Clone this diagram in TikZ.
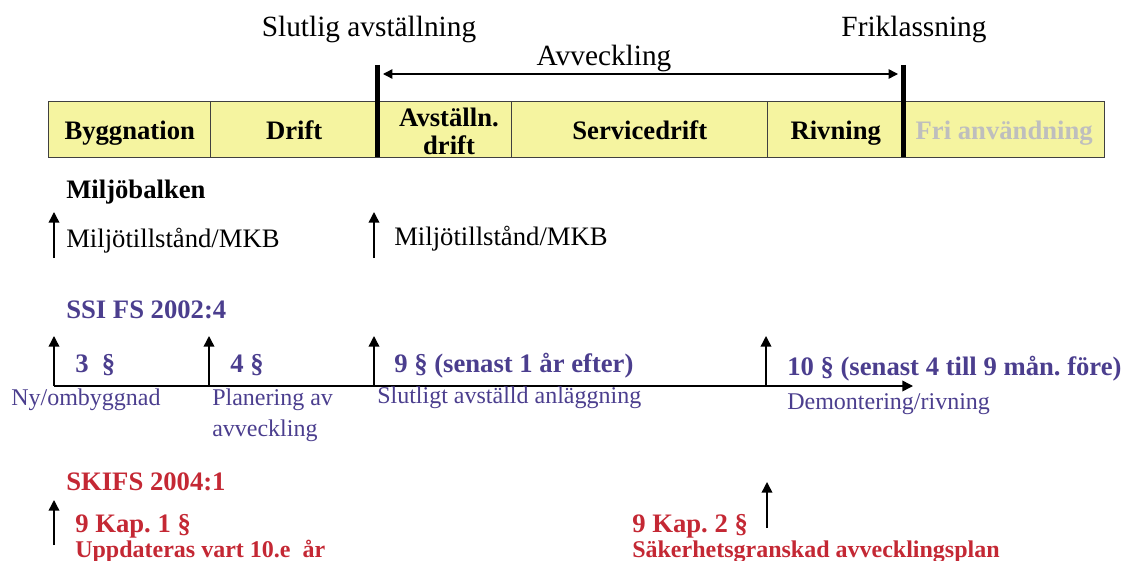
\documentclass[tikz,border=0pt]{standalone}
\usepackage{fontspec}
\setmainfont{Liberation Serif}
\usetikzlibrary{arrows.meta}
\definecolor{barfill}{RGB}{245,244,160}
\definecolor{ssiblue}{RGB}{75,62,142}
\definecolor{skired}{RGB}{196,40,52}
\definecolor{frigray}{RGB}{190,190,190}
\frenchspacing

\begin{document}
\begin{tikzpicture}[x=0.75pt,y=-0.75pt]
\tikzstyle{phase}=[draw=black!75, fill=barfill, line width=1.1pt, anchor=north west, minimum height=42pt, inner sep=0pt, text height=15pt, text depth=0pt, font=\fontsize{20}{21}\selectfont\bfseries]
\tikzstyle{milestone}=[line width=3.75pt]
\tikzstyle{uparrow}=[-{Triangle[length=8pt,width=8pt]}, line width=1.1pt]
\tikzstyle{head}=[anchor=base, inner sep=0pt, font=\fontsize{22}{24}\selectfont]
\tikzstyle{law}=[anchor=base west, inner sep=0pt, font=\fontsize{20}{22}\selectfont\bfseries]
\tikzstyle{plain}=[anchor=base west, inner sep=0pt, font=\fontsize{20}{22}\selectfont]
\tikzstyle{small}=[anchor=base west, inner sep=0pt, align=left, font=\fontsize{18}{23.25}\selectfont]
\tikzstyle{note}=[anchor=base west, inner sep=0pt, font=\fontsize{18}{19}\selectfont\bfseries]

\useasboundingbox (0,0) rectangle (1123,560);

% phases
\draw (48,101) node[phase, minimum width=121.5pt] (bygg) {Byggnation};
\draw (210,101) node[phase, minimum width=125.25pt] (drift) {Drift};
\draw (377,101) node[phase, minimum width=100.5pt] (avst) {};
\draw (511,101) node[phase, minimum width=192pt] (service) {Servicedrift};
\draw (767,101) node[phase, minimum width=102pt] (rivning) {Rivning};
\draw (903,101) node[phase, minimum width=150.75pt, text=frigray] (fri) {Fri användning};
\draw (449,154) node[anchor=base, align=center, inner sep=0pt, font=\fontsize{20}{21}\selectfont\bfseries] (avsttext) {Avställn.\\drift};

% milestones
\coordinate (sluttop) at (377,65);
\coordinate (slutbot) at (377,157);
\coordinate (fritop) at (903,65);
\coordinate (fribot) at (903,157);
\draw[milestone] (sluttop) -- (slutbot);
\draw[milestone] (fritop) -- (fribot);
\coordinate (avvl) at (383,74);
\coordinate (avvr) at (898,74);
\draw[{Triangle[length=7pt,width=7pt]}-{Triangle[length=7pt,width=7pt]}, line width=1.1pt] (avvl) -- (avvr);

\draw (369,37) node[head] (slutlig) {Slutlig avställning};
\draw (604,65) node[head] (avveckling) {Avveckling};
\draw (914,37) node[head] (friklass) {Friklassning};

% Miljobalken
\draw (66,198) node[law] (mb) {Miljöbalken};
\coordinate (mb0) at (54,258);
\coordinate (mb0top) at (54,212);
\coordinate (mb1) at (374,258);
\coordinate (mb1top) at (374,212);
\draw[uparrow] (mb0) -- (mb0top);
\draw[uparrow] (mb1) -- (mb1top);
\draw (66,247) node[plain] (mkb0) {Miljötillstånd/MKB};
\draw (394,245) node[plain] (mkb1) {Miljötillstånd/MKB};

% SSI FS 2002:4
\draw (66,318) node[law, ssiblue] (ssi) {SSI FS 2002:4};
\coordinate (tl0) at (54,386);
\coordinate (tlend) at (913,386);
\draw[uparrow] (tl0) -- (tlend);
\coordinate (tl1) at (209,386);
\coordinate (tl2) at (374,386);
\coordinate (tl3) at (766,386);
\coordinate (tl0top) at (54,336);
\coordinate (tl1top) at (209,336);
\coordinate (tl2top) at (374,336);
\coordinate (tl3top) at (766,336);
\draw[uparrow] (tl0) -- (tl0top);
\draw[uparrow] (tl1) -- (tl1top);
\draw[uparrow] (tl2) -- (tl2top);
\draw[uparrow] (tl3) -- (tl3top);
\draw (75,372) node[law, ssiblue] (p3) {3\ \ §};
\draw (230,372) node[law, ssiblue] (p4) {4 §};
\draw (394,372) node[law, ssiblue] (p9) {9 § (senast 1 år efter)};
\draw (787,375) node[law, ssiblue] (p10) {10 § (senast 4 till 9 mån. före)};
\draw (11,405) node[small, ssiblue] (nyomb) {Ny/ombyggnad};
\draw (212,436) node[small, ssiblue] (planering) {Planering av\\avveckling};
\draw (377,403) node[small, ssiblue] (slutavst) {Slutligt avställd anläggning};
\draw (787,409) node[small, ssiblue] (demont) {Demontering/rivning};

% SKIFS 2004:1
\draw (66,490) node[law, skired] (skifs) {SKIFS 2004:1};
\coordinate (sk0) at (54,545);
\coordinate (sk0top) at (54,500);
\coordinate (sk1) at (767,528);
\coordinate (sk1top) at (767,482);
\draw[uparrow] (sk0) -- (sk0top);
\draw[uparrow] (sk1) -- (sk1top);
\draw (75,532) node[law, skired] (kap1) {9 Kap. 1 §};
\draw (75,557) node[note, skired] (uppd) {Uppdateras vart 10.e\ \ år};
\draw (632,532) node[law, skired] (kap2) {9 Kap. 2 §};
\draw (632,557) node[note, skired] (plan) {Säkerhetsgranskad avvecklingsplan};
\end{tikzpicture}
\end{document}
